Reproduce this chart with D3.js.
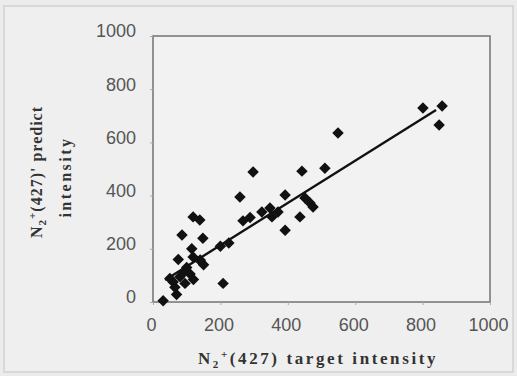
<!DOCTYPE html>
<html><head><meta charset="utf-8">
<script src="https://cdn.jsdelivr.net/npm/d3@7"></script>
<style>html,body{margin:0;padding:0;background:#ececec;}</style>
</head><body>
<svg id="c" width="517" height="376"></svg>
<script>
const targetX = [30,70,65,50,80,90,110,120,75,115,140,150,86,148,119,139,208,200,225,258,267,288,297,323,353,371,347,392,392,436,442,451,466,475,510,549,801,858,849,140,119,100,60,95];
const predictY = [5,28,55,88,95,110,105,85,160,200,155,140,252,240,320,308,70,210,222,395,305,318,489,338,320,338,353,402,270,320,492,391,372,357,503,635,729,737,665,158,169,130,75,70];
const trendX = [36, 840];
const trendY = [83, 722];
const xTicks = [0,200,400,600,800,1000];
const yTicks = [0,200,400,600,800,1000];

const svg = d3.select("#c");
svg.append("rect").attr("x",4).attr("y",6).attr("width",509).attr("height",366)
  .attr("fill","#efefef").attr("stroke","#d2d2d2").attr("stroke-width",1.5);

const x = d3.scaleLinear().domain([0,1000]).range([153,490]);
const y = d3.scaleLinear().domain([0,1000]).range([302,36]);

svg.append("rect").attr("x",153).attr("y",36).attr("width",337).attr("height",266)
  .attr("fill","#f2f2f2").attr("stroke","#7a7a7a").attr("stroke-width",1.6);

const tickFont = "Liberation Sans, Arial, sans-serif";
const yAxis = svg.append("g").attr("transform","translate(153,0)")
  .call(d3.axisLeft(y).tickValues(yTicks).tickSize(3).tickPadding(14).tickFormat(d3.format("d")));
yAxis.select(".domain").remove();
yAxis.selectAll("line").attr("stroke","#aaa");
yAxis.selectAll("text").attr("dy","0.05em").attr("font-family",tickFont)
  .attr("font-size",18).attr("fill","#555");

const xAxis = svg.append("g").attr("transform","translate(0,302)")
  .call(d3.axisBottom(x).tickValues(xTicks).tickSize(3).tickPadding(17).tickFormat(d3.format("d")));
xAxis.select(".domain").remove();
xAxis.selectAll("line").attr("stroke","#aaa");
xAxis.selectAll("text").attr("dx","-2").attr("dy","0.5em").attr("font-family",tickFont)
  .attr("font-size",18).attr("fill","#555");

// trend line
svg.append("line")
  .attr("x1",x(trendX[0])).attr("y1",y(trendY[0]))
  .attr("x2",x(trendX[1])).attr("y2",y(trendY[1]))
  .attr("stroke","#111").attr("stroke-width",2.4);

const pts = targetX.map((v,i)=>({x:v,y:predictY[i]}));
const sym = d3.symbol().type(d3.symbolSquare).size(66);
svg.append("g").selectAll("path").data(pts).join("path")
  .attr("d",sym)
  .attr("transform",d=>`translate(${x(d.x)},${y(d.y)}) rotate(45)`)
  .attr("fill","#111");

// axis titles
const serif = "Liberation Serif, Times New Roman, serif";
const xt = svg.append("text").attr("x",318).attr("y",364).attr("text-anchor","middle")
  .attr("font-family",serif).attr("font-weight","bold").attr("font-size",17)
  .attr("fill","#333").attr("letter-spacing","2.6");
xt.append("tspan").text("N");
xt.append("tspan").attr("font-size",11).attr("dy",4).text("2");
xt.append("tspan").attr("font-size",11).attr("dy",-10).text("+");
xt.append("tspan").attr("dy",6).text("(427) target intensity");

const yt = svg.append("text").attr("transform","translate(42,172) rotate(-90)").attr("text-anchor","middle")
  .attr("font-family",serif).attr("font-weight","bold").attr("font-size",16)
  .attr("fill","#333").attr("letter-spacing","1");
yt.append("tspan").text("N");
yt.append("tspan").attr("font-size",11).attr("dy",4).text("2");
yt.append("tspan").attr("font-size",11).attr("dy",-10).text("+");
yt.append("tspan").attr("dy",6).text("(427)' predict");

svg.append("text").attr("transform","translate(71,177) rotate(-90)").attr("text-anchor","middle")
  .attr("font-family",serif).attr("font-weight","bold").attr("font-size",16)
  .attr("fill","#333").attr("letter-spacing","2.5").text("intensity");
</script>
</body></html>
